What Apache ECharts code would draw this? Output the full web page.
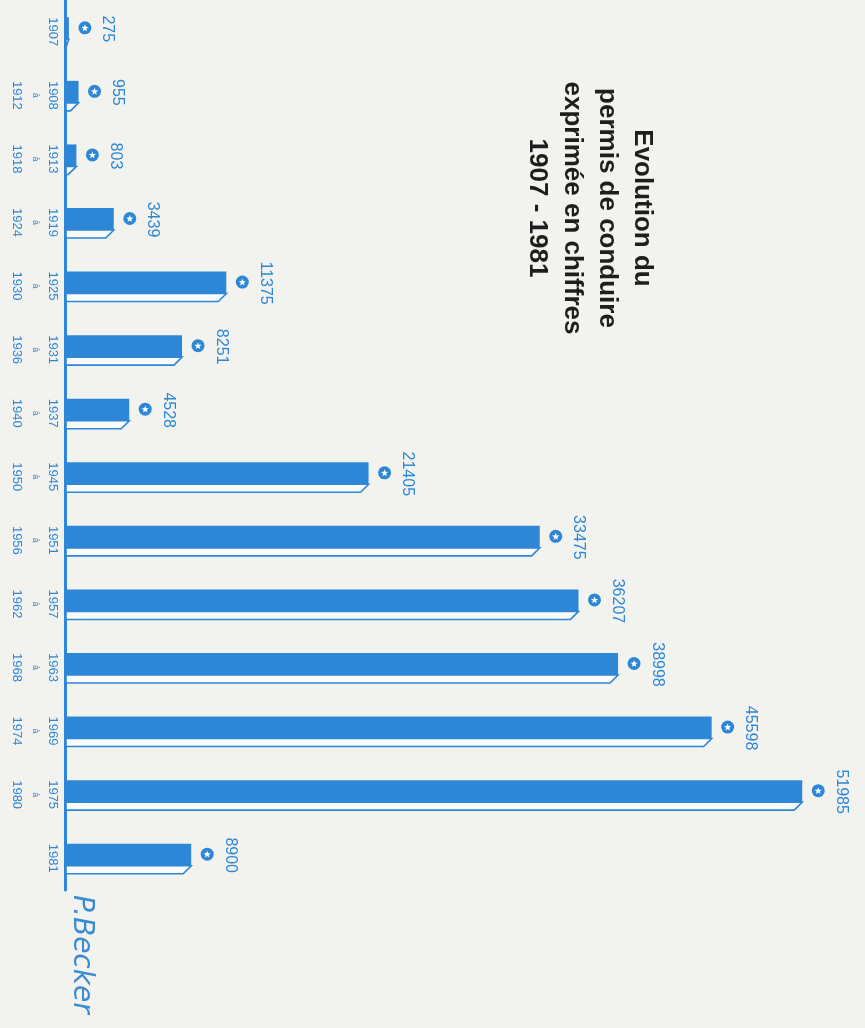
<!DOCTYPE html>
<html>
<head>
<meta charset="utf-8">
<script src="https://cdn.jsdelivr.net/npm/echarts@6/dist/echarts.min.js"></script>
<style>
html,body{margin:0;padding:0;background:#f2f3ef;}
#chart{width:865px;height:1028px;}
</style>
</head>
<body>
<div id="chart"></div>
<script>
// ---- data ----
const periodStart = ['1907','1908','1913','1919','1925','1931','1937','1945','1951','1957','1963','1969','1975','1981'];
const periodEnd   = ['',    '1912','1918','1924','1930','1936','1940','1950','1956','1962','1968','1974','1980',''];
const permits     = [275, 955, 803, 3439, 11375, 8251, 4528, 21405, 33475, 36207, 38998, 45598, 51985, 8900];
const titleText = 'Evolution du\npermis de conduire\nexprimée en chiffres\n1907 - 1981';
const signature = 'P.Becker';

const BLUE = '#2d87d6';
const BG = '#f2f3ef';
const categories = periodStart.map((s, i) => periodEnd[i] ? s + '\nà\n' + periodEnd[i] : s);

const chart = echarts.init(document.getElementById('chart'));

function starPoints(cx, cy, ro, ri) {
  const pts = [];
  for (let k = 0; k < 10; k++) {
    const r = k % 2 === 0 ? ro : ri;
    const a = -Math.PI / 2 + k * Math.PI / 5;
    pts.push([cx + r * Math.cos(a), cy + r * Math.sin(a)]);
  }
  return pts;
}

const option = {
  backgroundColor: BG,
  animation: false,
  grid: { left: 65, top: 0, height: 890, width: 780 },
  xAxis: {
    type: 'value', min: 0, max: 55000, show: false,
    splitLine: { show: false }
  },
  yAxis: {
    type: 'category', data: categories, inverse: true,
    axisLine: { show: true, lineStyle: { color: BLUE, width: 3 } },
    axisTick: { show: false },
    axisLabel: {
      rotate: -90, margin: 3, interval: 0,
      formatter: function (v) {
        return v.split('\n').map((s, i) => (i === 1 ? '{a|' + s + '}' : '{y|' + s + '}')).join('\n');
      },
      rich: {
        y: { fontSize: 13, lineHeight: 18, color: BLUE, fontFamily: 'Liberation Sans' },
        a: { fontSize: 9, lineHeight: 18, color: BLUE, fontFamily: 'Liberation Sans' }
      }
    }
  },
  graphic: [
    {
      type: 'text', x: 590, y: 208, rotation: -Math.PI / 2,
      style: {
        text: titleText, fill: '#1e1e1e',
        font: 'bold 26px "Liberation Sans", Arial, sans-serif',
        lineHeight: 35, align: 'center', verticalAlign: 'middle'
      }
    },
    {
      type: 'text', x: 81, y: 895, rotation: -Math.PI / 2,
      style: {
        text: signature, fill: '#3b8bd3',
        font: 'italic 28px "DejaVu Sans", sans-serif',
        align: 'left', verticalAlign: 'middle'
      }
    }
  ],
  series: [{
    type: 'custom',
    encode: { x: 0, y: 1 },
    data: permits.map((v, i) => [v, i]),
    renderItem: function (params, api) {
      const v = api.value(0), idx = api.value(1);
      const end = api.coord([v, idx]);
      const start = api.coord([0, idx]);
      const c = end[1];
      const x0 = start[0] + 1, x1 = end[0];
      const top = c - 14.5, bot = c + 7.5, depth = 8;
      const xs = Math.max(x0, x1 - depth);
      const cy = c - 4;
      return {
        type: 'group',
        children: [
          {
            type: 'polygon',
            shape: { points: [[x0, bot], [x1, bot], [xs, bot + depth], [x0, bot + depth]] },
            style: { fill: '#fafbfa', stroke: BLUE, lineWidth: 1.6 }
          },
          {
            type: 'rect',
            shape: { x: x0, y: top, width: Math.max(1, x1 - x0), height: bot - top },
            style: { fill: BLUE }
          },
          {
            type: 'circle',
            shape: { cx: x1 + 16, cy: cy, r: 6.5 },
            style: { fill: BLUE }
          },
          {
            type: 'polygon',
            shape: { points: starPoints(x1 + 16, cy + 0.3, 3.8, 1.6) },
            style: { fill: '#ffffff' }
          },
          {
            type: 'text',
            x: x1 + 39, y: c - 3, rotation: -Math.PI / 2,
            style: {
              text: String(v), fill: BLUE,
              font: '16px "Liberation Sans", Arial, sans-serif',
              align: 'center', verticalAlign: 'middle'
            }
          }
        ]
      };
    }
  }]
};
chart.setOption(option);
</script>
</body>
</html>
